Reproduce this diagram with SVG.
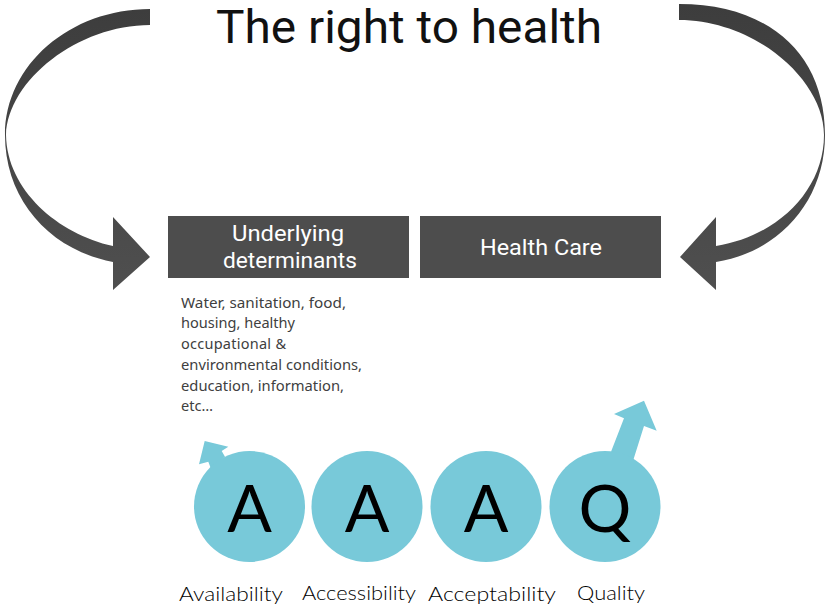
<svg xmlns="http://www.w3.org/2000/svg" width="827" height="607" viewBox="0 0 827 607">
<style>
text{font-family:"Noto Sans","Open Sans",sans-serif}
.bar{fill:#4d4d4d}
.hd{fill:#fff;font-family:Roboto,"Noto Sans",sans-serif;font-size:22px}
.body{fill:#404040;font-size:14.500px}
.c{fill:#78c9d9}
.l{fill:#000;font-family:Lato,"Noto Sans",sans-serif;font-size:66px;text-anchor:middle}
.lb{fill:#000;font-family:Lato,"Noto Sans",sans-serif;font-size:20px;font-weight:300}
</style>
<defs><linearGradient id="g" x1="0" y1="0" x2="0" y2="1"><stop offset="0" stop-color="#3d3d3d"/><stop offset="1" stop-color="#4f4f4f"/></linearGradient></defs>
<rect width="827" height="607" fill="#fff"/>
<text id="title" x="216" y="43" font-size="46" fill="#111" style="font-family:Roboto,'Noto Sans',sans-serif" textLength="386" lengthAdjust="spacingAndGlyphs">The right to health</text>
<g id="connectors">
<path fill="url(#g)" d="M150 9C70 9 5 65 5 135C5 200 50 250 113 262L113 290L150 257L113 217L113 246C58 234 7 190 6 135C8 80 78 25 150 25Z"/>
<path fill="url(#g)" d="M679 4C770 4 825 55 825 135C825 200 780 252 716 262L716 290L680 257L716 217L716 246C778 236 824 190 824 135C824 80 755 20 679 20Z"/>
<path class="c" d="M204.700 441L228.300 446.700L221.700 451L225 456.700L210.700 468L208.300 461.700L199 464.300Z"/>
<path class="c" d="M644 400.700L614 414L624 418.300L611 451.700L633.300 460L644 426L656.700 430.700Z"/>
</g>
<g id="underlying"><rect class="bar" x="168" y="216" width="241" height="62"/>
<text class="hd" x="232" y="241" textLength="112" lengthAdjust="spacingAndGlyphs">Underlying</text><text class="hd" x="223" y="268" textLength="134" lengthAdjust="spacingAndGlyphs">determinants</text></g>
<g id="healthcare"><rect class="bar" x="420" y="216" width="241" height="62"/>
<text class="hd" x="480" y="255" textLength="122" lengthAdjust="spacingAndGlyphs">Health Care</text></g>
<g id="details">
<text class="body" x="181" y="307.500" textLength="165" lengthAdjust="spacingAndGlyphs">Water, sanitation, food,</text>
<text class="body" x="181" y="328" textLength="114" lengthAdjust="spacingAndGlyphs">housing, healthy</text>
<text class="body" x="181" y="349" textLength="105">occupational  &amp;</text>
<text class="body" x="181" y="370" textLength="181" lengthAdjust="spacingAndGlyphs">environmental conditions,</text>
<text class="body" x="181" y="390.500" textLength="163" lengthAdjust="spacingAndGlyphs">education, information,</text>
<text class="body" x="181" y="411" textLength="32" lengthAdjust="spacingAndGlyphs">etc…</text>
</g>
<g id="availability"><circle class="c" cx="249.500" cy="506.500" r="55.500"/><text class="l" x="249.500" y="532">A</text>
<text class="lb" x="179" y="601" textLength="104" lengthAdjust="spacingAndGlyphs">Availability</text></g>
<g id="accessibility"><circle class="c" cx="367" cy="506.500" r="55.500"/><text class="l" x="367" y="532">A</text>
<text class="lb" x="302" y="600" textLength="114" lengthAdjust="spacingAndGlyphs">Accessibility</text></g>
<g id="acceptability"><circle class="c" cx="486" cy="506.500" r="55.500"/><text class="l" x="486" y="532">A</text>
<text class="lb" x="428" y="601" textLength="128" lengthAdjust="spacingAndGlyphs">Acceptability</text></g>
<g id="quality"><circle class="c" cx="605" cy="506.500" r="55.500"/><text class="l" x="605" y="532">Q</text>
<text class="lb" x="577" y="600" textLength="68" lengthAdjust="spacingAndGlyphs">Quality</text></g>
</svg>
